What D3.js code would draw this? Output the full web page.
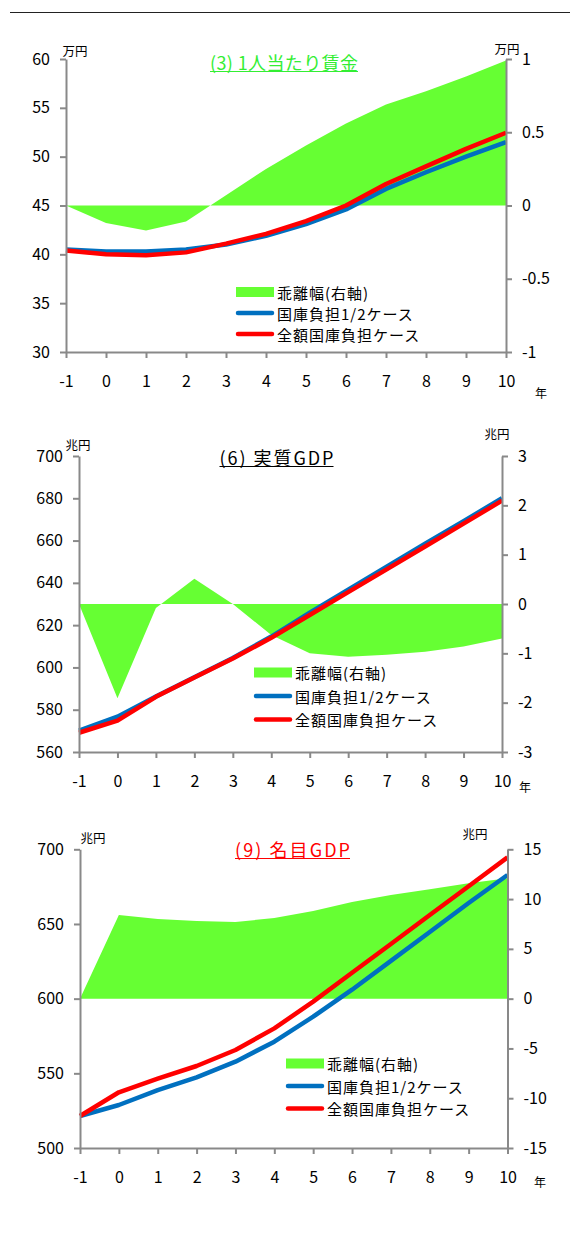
<!DOCTYPE html>
<html>
<head>
<meta charset="utf-8">
<script src="https://cdn.jsdelivr.net/npm/d3@7"></script>
<style>
  body { margin: 0; background: #fff; }
  svg { display: block; }
  text { font-family: "Noto Sans CJK JP", "Noto Sans", sans-serif; fill: #000; }
</style>
</head>
<body>
<svg id="chart" width="570" height="1245"></svg>
<script>
// ---- data -------------------------------------------------------------
const years = [-1, 0, 1, 2, 3, 4, 5, 6, 7, 8, 9, 10];
const legendLabels = ["乖離幅(右軸)", "国庫負担1/2ケース", "全額国庫負担ケース"];

// (3) 1人当たり賃金 (万円)
const wageHalf = [40.5, 40.3, 40.3, 40.5, 41.0, 41.9, 43.1, 44.6, 46.7, 48.4, 50.0, 51.5];
const wageFull = [40.4, 40.0, 39.9, 40.2, 41.1, 42.1, 43.4, 45.0, 47.2, 49.0, 50.8, 52.45];
const wageGap  = [0, -0.12, -0.17, -0.11, 0.07, 0.25, 0.41, 0.56, 0.69, 0.78, 0.88, 0.99];
const wageLeftTicks  = [30, 35, 40, 45, 50, 55, 60];
const wageRightTicks = [-1, -0.5, 0, 0.5, 1];

// (6) 実質GDP (兆円)
const realHalf = [570.1, 576.7, 586.3, 595.4, 604.5, 614.6, 625.9, 636.8, 647.6, 658.5, 669.2, 680.0];
const realFull = [569.1, 574.8, 586.1, 595.2, 604.2, 614.0, 624.8, 635.6, 646.4, 657.2, 668.0, 678.9];
const realGap  = [0, -1.91, -0.08, 0.51, 0, -0.63, -1.0, -1.07, -1.03, -0.97, -0.86, -0.70];
const realLeftTicks  = [560, 580, 600, 620, 640, 660, 680, 700];
const realRightTicks = [-3, -2, -1, 0, 1, 2, 3];

// (9) 名目GDP (兆円)
const nomHalf = [521.4, 528.8, 538.8, 547.3, 557.8, 571.2, 587.9, 606.0, 625.3, 644.6, 664.0, 682.8];
const nomFull = [521.4, 537.3, 546.4, 554.9, 565.6, 580.1, 598.0, 617.3, 636.6, 656.0, 675.3, 694.6];
const nomGap  = [0, 8.4, 8.0, 7.8, 7.7, 8.1, 8.8, 9.7, 10.4, 11.0, 11.6, 12.1];
const nomLeftTicks  = [500, 550, 600, 650, 700];
const nomRightTicks = [-15, -10, -5, 0, 5, 10, 15];

// ---- styles -----------------------------------------------------------
const GREEN = "#66ff33", BLUE = "#0070c0", RED = "#ff0000", AXIS = "#898989";

const svg = d3.select("#chart");

// rule across the top of the page
svg.append("line")
  .attr("x1", 10).attr("x2", 570).attr("y1", 12.5).attr("y2", 12.5)
  .attr("stroke", "#222").attr("stroke-width", 1);

const panels = [
  {
    title: "(3) 1人当たり賃金", titleColor: "#33ee33", titleX: 284, titleY: 62, titleW: 148,
    unit: "万円", unitL: [75, 50], unitR: [507, 48],
    half: wageHalf, full: wageFull, gap: wageGap,
    leftTicks: wageLeftTicks, rightTicks: wageRightTicks,
    left: 66, right: 506, top: 59, bottom: 352,
    legend: [236, 292], legendStep: 21, yearLabel: [541, 392]
  },
  {
    title: "(6) 実質GDP", titleColor: "#000", titleX: 276.5, titleY: 457, titleW: 114,
    unit: "兆円", unitL: [78, 444], unitR: [497, 433],
    half: realHalf, full: realFull, gap: realGap,
    leftTicks: realLeftTicks, rightTicks: realRightTicks,
    left: 79, right: 502, top: 456, bottom: 752,
    legend: [254, 672.5], legendStep: 23.5, yearLabel: [525, 786]
  },
  {
    title: "(9) 名目GDP", titleColor: "#ff0000", titleX: 292.5, titleY: 849, titleW: 115,
    unit: "兆円", unitL: [93, 837], unitR: [475, 833],
    half: nomHalf, full: nomFull, gap: nomGap,
    leftTicks: nomLeftTicks, rightTicks: nomRightTicks,
    left: 80, right: 507.5, top: 849.3, bottom: 1148,
    legend: [286, 1063.5], legendStep: 22.5, yearLabel: [540, 1181]
  }
];

function fmt(d) { return String(d); }

function drawPanel(p) {
  const g = svg.append("g");
  const lDom = d3.extent(p.leftTicks), rDom = d3.extent(p.rightTicks);
  const x  = d3.scaleLinear().domain(d3.extent(years)).range([p.left, p.right]);
  const yL = d3.scaleLinear().domain(lDom).range([p.bottom, p.top]);
  const yR = d3.scaleLinear().domain(rDom).range([p.bottom, p.top]);

  // gap area on the right axis
  const area = d3.area()
    .x((d, i) => x(years[i]))
    .y0(yR(0))
    .y1(d => yR(d));
  g.append("path").datum(p.gap)
    .attr("d", area).attr("fill", GREEN);

  // two cases on the left axis
  const line = d3.line().x((d, i) => x(years[i])).y(d => yL(d));
  g.append("path").datum(p.half)
    .attr("d", line).attr("fill", "none")
    .attr("stroke", BLUE).attr("stroke-width", 4.5).attr("stroke-linejoin", "round");
  g.append("path").datum(p.full)
    .attr("d", line).attr("fill", "none")
    .attr("stroke", RED).attr("stroke-width", 4.5).attr("stroke-linejoin", "round");

  // axes
  const styleAxis = sel => {
    sel.selectAll("path.domain").attr("stroke", AXIS).attr("stroke-width", 2);
    sel.selectAll(".tick line").attr("stroke", AXIS).attr("stroke-width", 2);
    sel.selectAll("text").attr("fill", "#000")
      .style("font-family", "'Noto Sans CJK JP', 'Noto Sans', sans-serif")
      .style("font-size", "16px");
  };
  g.append("g").attr("transform", `translate(${p.left},0)`)
    .call(d3.axisLeft(yL).tickValues(p.leftTicks).tickFormat(fmt)
      .tickSize(6).tickSizeOuter(0).tickPadding(10))
    .call(styleAxis);
  g.append("g").attr("transform", `translate(${p.right},0)`)
    .call(d3.axisRight(yR).tickValues(p.rightTicks).tickFormat(fmt)
      .tickSize(6).tickSizeOuter(0).tickPadding(10))
    .call(styleAxis);
  g.append("g").attr("transform", `translate(0,${p.bottom})`)
    .call(d3.axisBottom(x).tickValues(years).tickFormat(fmt)
      .tickSize(6).tickSizeOuter(0).tickPadding(18))
    .call(styleAxis);

  // title with underline
  g.append("text")
    .attr("x", p.titleX).attr("y", p.titleY)
    .attr("text-anchor", "middle").attr("dominant-baseline", "central")
    .attr("textLength", p.titleW).attr("lengthAdjust", "spacing")
    .style("font-size", "18px").style("fill", p.titleColor)
    .text(p.title);
  g.append("line")
    .attr("x1", p.titleX - p.titleW / 2).attr("x2", p.titleX + p.titleW / 2)
    .attr("y1", p.titleY + 9.5).attr("y2", p.titleY + 9.5)
    .attr("stroke", p.titleColor).attr("stroke-width", 1.2);

  // units
  g.append("text").attr("x", p.unitL[0]).attr("y", p.unitL[1])
    .attr("text-anchor", "middle").attr("dominant-baseline", "central")
    .style("font-size", "12.5px").text(p.unit);
  g.append("text").attr("x", p.unitR[0]).attr("y", p.unitR[1])
    .attr("text-anchor", "middle").attr("dominant-baseline", "central")
    .style("font-size", "12.5px").text(p.unit);
  g.append("text").attr("x", p.yearLabel[0]).attr("y", p.yearLabel[1])
    .attr("text-anchor", "middle").attr("dominant-baseline", "central")
    .style("font-size", "12px").text("年");

  // legend
  const [lx, ly] = p.legend;
  const lg = g.append("g");
  legendLabels.forEach((label, i) => {
    const cy = ly + i * p.legendStep;
    if (i === 0) {
      lg.append("rect").attr("x", lx).attr("y", cy - 5)
        .attr("width", 38).attr("height", 10).attr("fill", GREEN);
    } else {
      lg.append("line").attr("x1", lx + 2).attr("x2", lx + 36)
        .attr("y1", cy).attr("y2", cy)
        .attr("stroke", i === 1 ? BLUE : RED).attr("stroke-width", 4.5)
        .attr("stroke-linecap", "round");
    }
    lg.append("text").attr("x", lx + 41).attr("y", cy)
      .attr("dominant-baseline", "central")
      .style("font-size", "15px").style("letter-spacing", "1px")
      .text(label);
  });
}

panels.forEach(drawPanel);
</script>
</body>
</html>
